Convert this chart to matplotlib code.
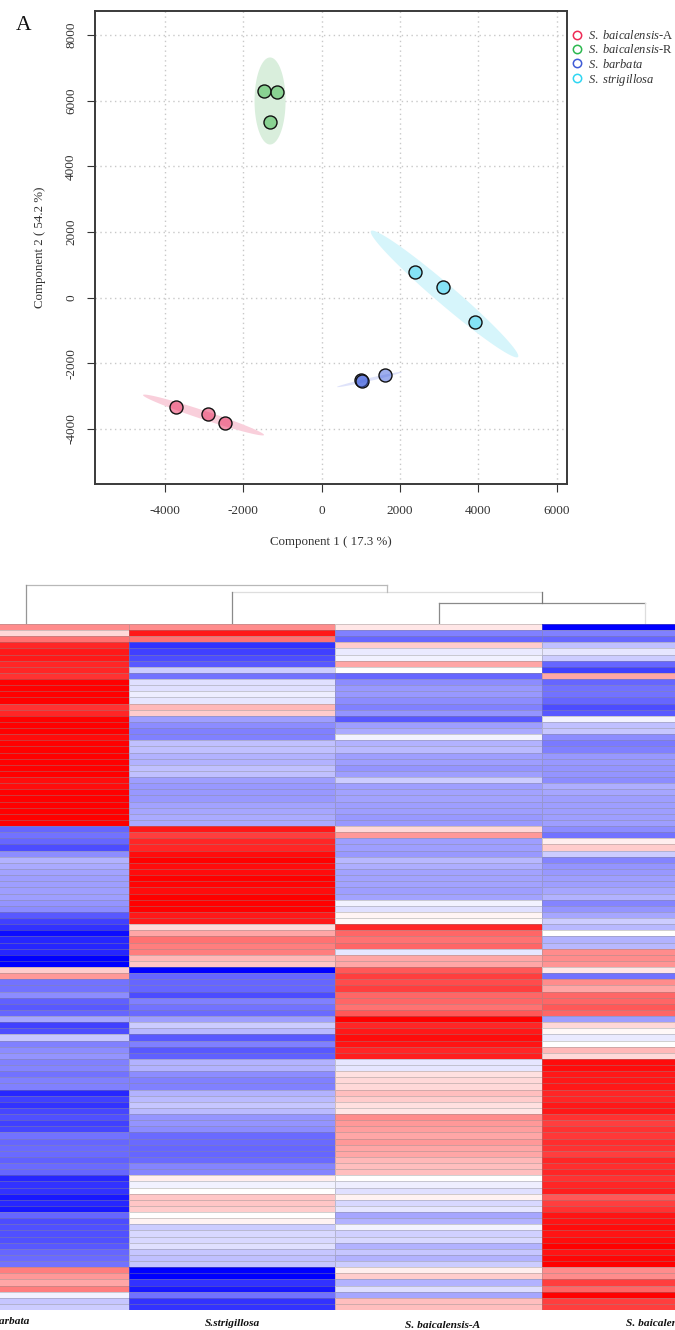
# PCA scatter on top, clustered heatmap below

import numpy as np
import matplotlib
matplotlib.use("Agg")
import matplotlib.pyplot as plt
from matplotlib.colors import LinearSegmentedColormap, to_rgba
from matplotlib.lines import Line2D

plt.rcParams["font.family"] = ["Liberation Serif", "DejaVu Serif"]
plt.rcParams["mathtext.fontset"] = "custom"
plt.rcParams["mathtext.rm"] = "Liberation Serif"
plt.rcParams["mathtext.it"] = "Liberation Serif:italic"

W, H = 675, 1330

groups = ["$\\mathit{S.\\ baicalensis}$-A", "$\\mathit{S.\\ baicalensis}$-R",
          "$\\mathit{S.\\ barbata}$", "$\\mathit{S.\\ strigillosa}$"]
legend_colors = ["#ee2a55", "#2cb84f", "#3f5bd6", "#2fd6f2"]
fill_colors = ["#f9cfdb", "#d9eedc", "#dfe3fa", "#d6f5fb"]
point_colors = ["#e8285a", "#3ab84a", "#3f5fdc", "#35d2f2"]

pca_x = [[-3707, -2892, -2459], [-1465, -1134, -1312], [1006, 1032, 1618], [2382, 3096, 3911]]
pca_y = [[-3328, -3541, -3815], [6294, 6264, 5350], [-2506, -2537, -2354], [783, 326, -740]]

# confidence ellipses: centre, major half axis, minor half axis
ell_center = [(-3006, -3572), (-1311, 5990), (1223, -2491), (3134, 113)]
ell_major = [(1541, -609), (0, 1325), (828, 228), (1873, -1918)]
ell_minor = [(36, 125), (395, 0), (9, -45), (165, 225)]

x_ticks = [-4000, -2000, 0, 2000, 4000, 6000]
y_ticks = [-4000, -2000, 0, 2000, 4000, 6000, 8000]

col_names = ["S. barbata", "S.strigillosa", "S. baicalensis-A", "S. baicalensis-R"]

col_a = [.45, .15, .55, .85, .9, .9, .85, .85, .8, 1, 1, 1, 1, .8, .85, 1, 1, 1, .95, 1, 1, 1, 1, 1, 1, .95, .95, 1, 1, 1, 1, 1, 1,
         -.6, -.55, -.6, -.7, -.45, -.3, -.33, -.36, -.38, -.38, -.38, -.38, -.42, -.45, -.65, -.75, -.8, -.95, -.85, -.85, -.85, -1, -1,
         .2, .4, -.55, -.55, -.45, -.62, -.65, -.6, -.35, -.75, -.7, -.22, -.5, -.45, -.42, -.5, -.48, -.55,
         -.5, -.5, -.85, -.75, -.8, -.72, -.68, -.75, -.72, -.55, -.6, -.58, -.58, -.62, -.58, -.6, -.85, -.8, -.8, -.9, -.85, -.9,
         -.6, -.7, -.68, -.68, -.68, -.65, -.6, -.58, -.55, .5, .4, .35, .5, -.05, -.22, -.2]
col_b = [.45, .9, .55, -.8, -.75, -.7, -.65, -.2, -.55, -.12, -.12, -.07, -.1, .28, .2, -.38, -.45, -.5, -.5, -.25, -.25, -.3, -.3, -.25, -.25, -.38, -.4, -.4, -.4, -.36, -.35, -.33, -.33,
         .9, .75, .85, .85, .95, 1, .95, .95, 1, .98, .95, 1, 1, 1, .9, .9, .15, .35, .55, .5, .5, .28, .22,
         -1, -.6, -.6, -.6, -.7, -.5, -.55, -.58, -.38, -.2, -.28, -.65, -.5, -.65, -.62, -.3, -.3, -.45,
         -.5, -.5, -.3, -.27, -.22, -.27, -.42, -.42, -.45, -.58, -.58, -.6, -.6, -.58, -.48, -.48, .07, -.05, 0, .22, .22, .2,
         0, .05, -.2, -.15, -.15, -.12, -.22, -.25, -.22, -1, -1, -.8, -.9, -.55, -.8, -.8]
col_c = [.1, -.5, -.6, .2, -.08, -.05, .35, 0, -.6, -.45, -.4, -.4, -.45, -.5, -.42, -.65, -.38, -.33, -.05, -.3, -.27, -.38, -.38, -.42, -.38, -.2, -.38, -.36, -.36, -.38, -.38, -.4, -.4,
         .15, .4, -.38, -.38, -.4, -.28, -.32, -.36, -.36, -.36, -.38, -.36, -.05, -.12, .04, .03, .85, .6, .55, .6, -.1, .35, .35,
         .65, .75, .7, .75, .6, .6, .55, .65, 1, .85, .9, .95, .92, .85, .88, -.1, -.1, .12,
         .15, .15, .25, .2, .12, .1, .45, .4, .38, .35, .4, .35, .35, .28, .25, .25, 0, -.07, -.12, .05, -.15, -.1,
         -.35, -.3, -.05, -.18, -.15, -.3, -.22, -.3, -.2, .07, .2, -.3, -.13, -.35, .25, .25]
col_d = [-1, -.5, -.6, -.25, -.1, -.2, -.6, -.75, .35, -.6, -.55, -.55, -.6, -.7, -.65, -.05, -.25, -.22, -.45, -.52, -.5, -.4, -.4, -.42, -.42, -.45, -.32, -.35, -.38, -.38, -.38, -.38, -.38,
         -.45, -.55, .07, .2, -.2, -.48, -.42, -.4, -.38, -.38, -.35, -.3, -.48, -.42, -.35, -.2, -.28, 0, -.3, -.28, .45, .45, .42,
         .1, -.55, .45, .35, .6, .6, .65, .6, -.38, .15, .03, -.08, 0, .28, .15, .95, .95, .9,
         .9, .9, .85, .85, .9, .9, .8, .75, .8, .78, .82, .8, .75, .85, .82, .85, .8, .85, .88, .65, .75, .8,
         .92, .92, .95, .92, .95, 1, .92, .97, 1, .45, .45, .75, .6, 1, .75, .75]

# dendrogram merges: left position, right position, height
merges = [(2.5, 3.5, 21), (1.5, 3.0, 32), (0.5, 2.25, 39)]
# line greys for each merge: left leg, bar, right leg
merge_greys = [("#8a8a8a", "#8a8a8a", "#dddddd"), ("#8a8a8a", "#dedede", "#7a7a7a"), ("#969696", "#b8b8b8", "#bbbbbb")]

fig = plt.figure(figsize=(W / 100, H / 100), dpi=100)


def box(x0, y0, x1, y1):
    return [x0 / W, 1 - y1 / H, (x1 - x0) / W, (y1 - y0) / H]


# --- PCA panel ---
ax = fig.add_axes(box(95, 11, 567, 484))
t = np.linspace(0, 2 * np.pi, 200)
for c, ma, mi, col in zip(ell_center, ell_major, ell_minor, fill_colors):
    ex = c[0] + ma[0] * np.cos(t) + mi[0] * np.sin(t)
    ey = c[1] + ma[1] * np.cos(t) + mi[1] * np.sin(t)
    ax.fill(ex, ey, color=col, lw=0, zorder=2)
for xs, ys, col in zip(pca_x, pca_y, point_colors):
    ax.scatter(xs, ys, s=88, facecolors=to_rgba(col, 0.5), edgecolors="#111111", linewidths=1.0, zorder=3)
ax.set_xlim(-5771, 6255)
ax.set_ylim(-5673, 8730)
ax.set_xticks(x_ticks)
ax.set_yticks(y_ticks)
ax.set_xticklabels([str(v) for v in x_ticks], fontsize=9.5)
ax.set_yticklabels([str(v) for v in y_ticks], fontsize=9.5, rotation=90, va="center")
ax.tick_params(length=5.8, width=0.8, color="#333333", labelcolor="#333333")
ax.tick_params(axis="x", pad=9)
ax.tick_params(axis="y", pad=7)
ax.grid(True, ls=(0, (1, 2.5)), lw=1.0, color="#c8c8c8", zorder=0)
ax.set_axisbelow(True)
for s in ax.spines.values():
    s.set_linewidth(1.4)
    s.set_color("#3a3a3a")
ax.set_xlabel("Component 1 ( 17.3 %)", fontsize=9.3, labelpad=14, color="#333333")
ax.set_ylabel("Component 2 ( 54.2 %)", fontsize=9.3, labelpad=14, color="#333333")
fig.text(16 / W, 1 - 30 / H, "A", fontsize=15.5, color="#111111")

handles = [Line2D([], [], ls="", marker="o", ms=6, mfc="none", mec=c, mew=1.1) for c in legend_colors]
fig.legend(handles, groups, loc="upper left", bbox_to_anchor=(568 / W, 1 - 29 / H), frameon=False,
           fontsize=9.0, labelspacing=0.1, handletextpad=0.1, borderaxespad=0, borderpad=0,
           handlelength=1.5, labelcolor="#333333")

# --- heatmap panel ---
cmap = LinearSegmentedColormap.from_list("bwr2", ["#0000ff", "#ffffff", "#ff0000"])
data = np.array([col_a, col_b, col_c, col_d]).T
hm = fig.add_axes(box(0, 624, 675, 1310))
hm.pcolormesh(np.arange(5), np.arange(data.shape[0] + 1), data, cmap=cmap, vmin=-1, vmax=1,
              edgecolors=(0.55, 0.55, 0.55, 0.4), linewidth=0.5)
hm.set_xlim(77 / 206, 3 + 133 / 206)
hm.set_ylim(data.shape[0], 0)
hm.axis("off")

# --- dendrogram ---
dn = fig.add_axes(box(0, 575, 675, 624), sharex=hm)
dn.set_ylim(0, 49)
base = {0.5: 0, 1.5: 0, 2.5: 0, 3.5: 0}
for (left, right, h), (gl, gb, gr) in zip(merges, merge_greys):
    dn.plot([left, right], [h, h], color=gb, lw=0.9)
    dn.plot([left, left], [base[left], h], color=gl, lw=0.9)
    dn.plot([right, right], [base[right], h], color=gr, lw=0.9)
    base[(left + right) / 2] = h
dn.axis("off")
dn.patch.set_visible(False)

# --- column labels ---
label_x = [29, 232, 443, 626]
label_y = [1321, 1323, 1326, 1324]
label_ha = ["right", "center", "center", "left"]
for name, x, y, ha in zip(col_names, label_x, label_y, label_ha):
    fig.text(x / W, 1 - y / H, name, ha=ha, va="center", fontsize=8.2, fontweight="bold",
             fontstyle="italic", color="#111111")

fig.savefig("out.png", dpi=100)
